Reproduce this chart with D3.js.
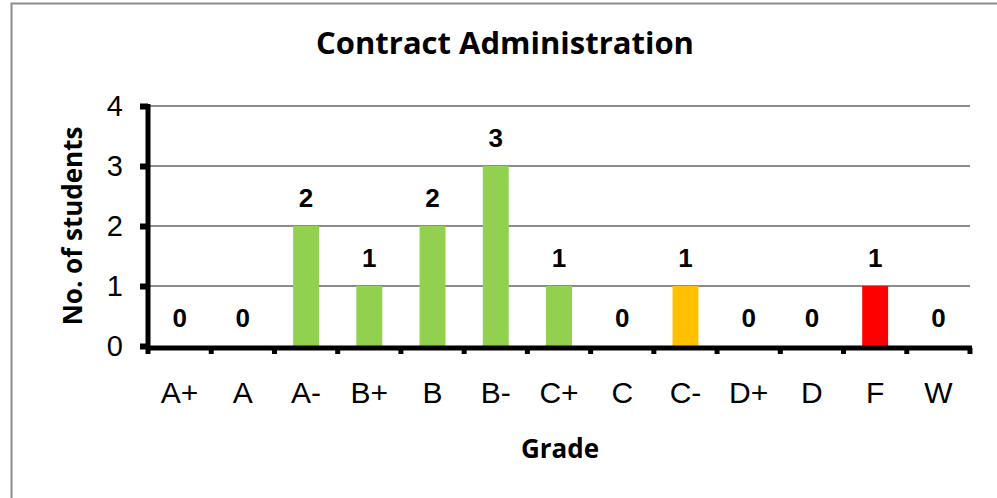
<!DOCTYPE html>
<html>
<head>
<meta charset="utf-8">
<script src="https://cdn.jsdelivr.net/npm/d3@7"></script>
<style>
  body { margin: 0; background: #fff; }
  svg { display: block; }
</style>
</head>
<body>
<svg id="chart" width="997" height="498"></svg>
<script>
const grades = ["A+", "A", "A-", "B+", "B", "B-", "C+", "C", "C-", "D+", "D", "F", "W"];
const students = [0, 0, 2, 1, 2, 3, 1, 0, 1, 0, 0, 1, 0];
const barColors = ["#92D050", "#92D050", "#92D050", "#92D050", "#92D050", "#92D050", "#92D050",
  "#92D050", "#FFC000", "#92D050", "#92D050", "#FF0000", "#92D050"];
const yTicks = [0, 1, 2, 3, 4];

const svg = d3.select("#chart");
const arial = "'Liberation Sans', Arial, sans-serif";
const calibri = "'Open Sans', sans-serif";

// outer chart frame
svg.append("rect")
  .attr("x", 11.5).attr("y", 3.5)
  .attr("width", 995).attr("height", 505)
  .attr("fill", "#fff").attr("stroke", "#8c8c8c").attr("stroke-width", 2);

const margin = { top: 106, left: 148, right: 27, bottom: 152 };
const width = 997 - margin.left - margin.right,
  height = 498 - margin.top - margin.bottom;

const x = d3.scaleBand().domain(grades).range([0, width]).paddingInner(0.59).paddingOuter(0.295);
const y = d3.scaleLinear().domain([0, 4]).range([height, 0]);

const g = svg.append("g").attr("transform", `translate(${margin.left},${margin.top})`);

// gridlines
g.selectAll(".grid")
  .data(yTicks.slice(1))
  .enter()
  .append("line")
  .attr("x1", 0).attr("x2", width)
  .attr("y1", d => y(d)).attr("y2", d => y(d))
  .attr("stroke", "#8c8c8c").attr("stroke-width", 2);

// bars
g.selectAll(".bar")
  .data(students)
  .enter()
  .append("rect")
  .attr("class", "bar")
  .attr("x", (d, i) => x(grades[i]))
  .attr("y", d => y(d))
  .attr("width", x.bandwidth())
  .attr("height", d => height - y(d))
  .attr("fill", (d, i) => barColors[i]);

// value labels
g.selectAll(".lbl")
  .data(students)
  .enter()
  .append("text")
  .attr("x", (d, i) => x(grades[i]) + x.bandwidth() / 2)
  .attr("y", d => y(d) - 19)
  .attr("text-anchor", "middle")
  .attr("font-family", arial)
  .attr("font-weight", "bold")
  .attr("font-size", 26)
  .text(d => d);

// y axis
const yAxis = g.append("g")
  .call(d3.axisLeft(y).tickValues(yTicks).tickSize(8).tickPadding(17).tickFormat(d3.format("d")));
yAxis.select(".domain").attr("stroke", "#000").attr("stroke-width", 5).attr("d", `M0,${height + 2}V-2`);
yAxis.selectAll(".tick line").attr("stroke", "#000").attr("stroke-width", 6);
yAxis.selectAll(".tick text")
  .attr("font-family", arial)
  .attr("font-size", 29).attr("fill", "#000");

// x axis
const bandStep = x.step();
const xAxis = g.append("g").attr("transform", `translate(0,${height})`);
xAxis.append("line")
  .attr("x1", -2).attr("x2", width + 2)
  .attr("y1", 2).attr("y2", 2)
  .attr("stroke", "#000").attr("stroke-width", 5);
xAxis.selectAll(".xt")
  .data(d3.range(grades.length + 1))
  .enter()
  .append("line")
  .attr("x1", i => i * bandStep).attr("x2", i => i * bandStep)
  .attr("y1", 2).attr("y2", 8)
  .attr("stroke", "#000").attr("stroke-width", 5);
xAxis.selectAll(".xl")
  .data(grades)
  .enter()
  .append("text")
  .attr("x", d => x(d) + x.bandwidth() / 2)
  .attr("y", 57)
  .attr("text-anchor", "middle")
  .attr("font-family", arial)
  .attr("font-size", 30)
  .text(d => d);

// titles
svg.append("text")
  .attr("x", 505).attr("y", 54)
  .attr("text-anchor", "middle")
  .attr("font-family", calibri)
  .attr("font-weight", "bold")
  .attr("font-size", 31)
  .text("Contract Administration");

svg.append("text")
  .attr("x", 560).attr("y", 458)
  .attr("text-anchor", "middle")
  .attr("font-family", calibri)
  .attr("font-weight", "bold")
  .attr("font-size", 26)
  .text("Grade");

svg.append("text")
  .attr("transform", "translate(82,226) rotate(-90)")
  .attr("text-anchor", "middle")
  .attr("font-family", calibri)
  .attr("font-weight", "bold")
  .attr("font-size", 26)
  .text("No. of students");
</script>
</body>
</html>
